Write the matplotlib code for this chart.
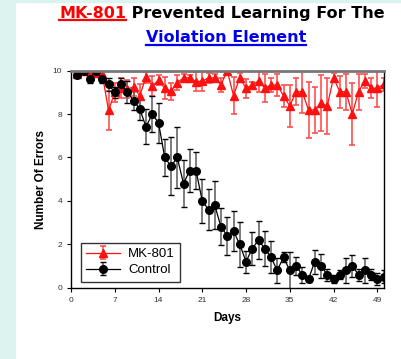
import numpy as np
import matplotlib.pyplot as plt
from matplotlib.lines import Line2D
from matplotlib.patches import Rectangle

plt.rcParams['font.family'] = ['Liberation Sans', 'DejaVu Sans']

days = np.arange(1, 51)

mk801 = [9.85, 10.0, 10.0, 9.9, 9.85, 8.17, 9.0, 9.2, 9.15, 9.25,
         8.85, 9.7, 9.3, 9.55, 9.2, 9.05, 9.45, 9.67, 9.67, 9.5,
         9.52, 9.67, 9.67, 9.35, 10.0, 8.85, 9.68, 9.19, 9.34, 9.53,
         9.19, 9.34, 9.34, 8.85, 8.37, 9.03, 9.03, 8.19, 8.19, 8.5,
         8.37, 9.68, 9.03, 9.03, 8.0, 9.03, 9.53, 9.19, 9.19, 9.37]
mk801_err = [0.1, 0.05, 0.05, 0.1, 0.2, 0.9, 0.42, 0.45, 0.4, 0.4,
             0.55, 0.25, 0.46, 0.23, 0.52, 0.4, 0.35, 0.17, 0.15, 0.42,
             0.47, 0.22, 0.2, 0.32, 0.05, 0.84, 0.2, 0.45, 0.15, 0.5,
             0.65, 0.33, 0.5, 0.5, 0.96, 0.62, 1.0, 1.28, 1.07, 1.3,
             1.3, 0.2, 0.73, 0.82, 1.42, 0.82, 0.32, 0.46, 0.84, 0.3]

control = [9.8, 10.0, 9.62, 10.0, 9.62, 9.37, 9.0, 9.38, 9.03, 8.62,
           8.23, 7.42, 8.0, 7.6, 6.0, 5.6, 6.0, 4.8, 5.4, 5.4,
           4.0, 3.6, 3.8, 2.8, 2.4, 2.6, 2.0, 1.2, 1.8, 2.2,
           1.8, 1.4, 0.8, 1.4, 0.8, 1.0, 0.6, 0.4, 1.2, 1.0,
           0.6, 0.4, 0.6, 0.8, 1.0, 0.6, 0.8, 0.6, 0.4, 0.5]
control_err = [0.1, 0.0, 0.2, 0.0, 0.2, 0.3, 0.25, 0.3, 0.5, 0.45,
               0.5, 0.8, 0.84, 0.92, 0.85, 1.35, 1.4, 1.07, 1.0, 0.85,
               1.03, 0.94, 1.1, 0.85, 0.88, 0.92, 1.05, 0.5, 0.75, 0.86,
               0.81, 0.73, 0.58, 0.23, 0.85, 0.4, 0.37, 0.16, 0.55, 0.53,
               0.28, 0.2, 0.2, 0.57, 0.52, 0.27, 0.57, 0.25, 0.28, 0.3]

xticks = [0, 7, 14, 21, 28, 35, 42, 49]
yticks = [0, 2, 4, 6, 8, 10]

fig = plt.figure(figsize=(4.01, 3.59), dpi=100, facecolor='white')
# light cyan page border
fig.patches.append(Rectangle((0, 0), 15 / 401, 1, transform=fig.transFigure,
                             color='#dcf4ef', zorder=0))
fig.patches.append(Rectangle((0, 1 - 2 / 359), 1, 2 / 359, transform=fig.transFigure,
                             color='#dcf4ef', zorder=0))

ax = fig.add_axes([71 / 401, 1 - 287.7 / 359, 312.5 / 401, 217 / 359])

r = ax.errorbar(days, mk801, yerr=mk801_err, color='#ff1010', ecolor='#ff5050',
                marker='^', markersize=5.5, linewidth=0.9, elinewidth=1.2,
                capsize=2.5, capthick=1.2, label='MK-801')
c = ax.errorbar(days, control, yerr=control_err, color='black', ecolor='black',
                marker='o', markersize=5.5, linewidth=0.9, elinewidth=1.2,
                capsize=2.5, capthick=1.0, label='Control')
for bl in c[2]:
    bl.set_color('#666666')

ax.set_xlim(0, 50)
ax.set_ylim(0, 10)
ax.set_xticks(xticks)
ax.set_yticks(yticks)
ax.tick_params(labelsize=6, length=3, width=0.8, colors='black', labelcolor='#333333')
ax.spines['top'].set_color('#777777')
ax.spines['top'].set_linewidth(2)
ax.spines['right'].set_linewidth(1)
ax.spines['left'].set_linewidth(1)
ax.spines['bottom'].set_linewidth(1)

ax.set_xlabel('Days', fontsize=8.5, fontweight='bold', labelpad=6)
ax.set_ylabel('Number Of Errors', fontsize=8.5, fontweight='bold', labelpad=4)

leg = ax.legend(loc='lower left', bbox_to_anchor=(0.031, 0.028), borderaxespad=0,
                fontsize=9.5, frameon=True, fancybox=False, handlelength=2.6,
                borderpad=0.4, labelspacing=0.3, handletextpad=0.6)
leg.get_frame().set_edgecolor('black')
leg.get_frame().set_linewidth(1)

# title with underlined parts
fig.canvas.draw()
renderer = fig.canvas.get_renderer()
tfont = dict(fontsize=11.5, fontweight='bold', family='DejaVu Sans', va='baseline')
t1 = fig.text(0, 1 - 18 / 359, 'MK-801', color='#ff0000', ha='left', **tfont)
t2 = fig.text(0, 1 - 18 / 359, ' Prevented Learning For The', color='black',
              ha='left', **tfont)
w1 = t1.get_window_extent(renderer).width
w2 = t2.get_window_extent(renderer).width
x0 = 222 - (w1 + w2) / 2
t1.set_x(x0 / 401)
t2.set_x((x0 + w1) / 401)
t3 = fig.text(226 / 401, 1 - 42 / 359, 'Violation Element', color='#0000ee',
              ha='center', **tfont)
fig.canvas.draw()
for t, col, yy in [(t1, '#ff0000', 20), (t3, '#0000ee', 44.5)]:
    bb = t.get_window_extent(renderer)
    fig.add_artist(Line2D([bb.x0 / 401, bb.x1 / 401], [1 - yy / 359, 1 - yy / 359],
                          transform=fig.transFigure, color=col, linewidth=1.6))

fig.savefig('out.png', dpi=100, facecolor='white')
